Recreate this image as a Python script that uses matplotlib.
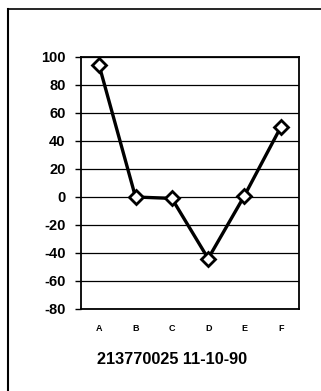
import matplotlib
matplotlib.use("Agg")
import matplotlib.pyplot as plt
from matplotlib.lines import Line2D

categories = ["A", "B", "C", "D", "E", "F"]
values = [94, 0, -1, -44, 1, 50]
yticks = [-80, -60, -40, -20, 0, 20, 40, 60, 80, 100]
title = "213770025 11-10-90"

plt.rcParams['font.family'] = ['Liberation Sans', 'DejaVu Sans']
plt.rcParams['font.weight'] = 'bold'

W, H = 321, 391
fig = plt.figure(figsize=(W / 100, H / 100), dpi=100)
fig.patch.set_facecolor('white')

ax = fig.add_axes([81 / W, 1 - 309 / H, 218 / W, 252 / H])
x = list(range(len(categories)))
ax.plot(x, values, color='black', lw=2.4, marker='D', markersize=7.5,
        markerfacecolor='white', markeredgecolor='black', markeredgewidth=2, zorder=3,
        clip_on=False)
ax.set_xlim(-0.5, len(categories) - 0.5)
ax.set_ylim(-80, 100)
ax.set_yticks(yticks)
ax.set_yticklabels([str(v) for v in yticks], fontsize=10.5, fontweight='bold')
ax.set_xticks(x)
ax.set_xticklabels(categories, fontsize=6.5, fontweight='bold')
ax.tick_params(axis='x', length=0, pad=11)
ax.tick_params(axis='y', length=4, width=1, pad=7, direction='out')
ax.yaxis.grid(True, color='black', lw=0.9)
ax.set_axisbelow(True)
for s in ax.spines.values():
    s.set_linewidth(1.3)
    s.set_color('black')

fig.text(172.5 / W, 1 - 359 / H, title, ha='center', va='center',
         fontsize=11.7, fontweight='bold')

# outer frame (top and left)
fig.add_artist(Line2D([8 / W, 1.0], [1 - 9 / H, 1 - 9 / H], color='black', lw=1.2,
                      transform=fig.transFigure))
fig.add_artist(Line2D([8 / W, 8 / W], [1 - 9 / H, 0.0], color='black', lw=1.5,
                      transform=fig.transFigure))

fig.savefig("out.png", dpi=100)
